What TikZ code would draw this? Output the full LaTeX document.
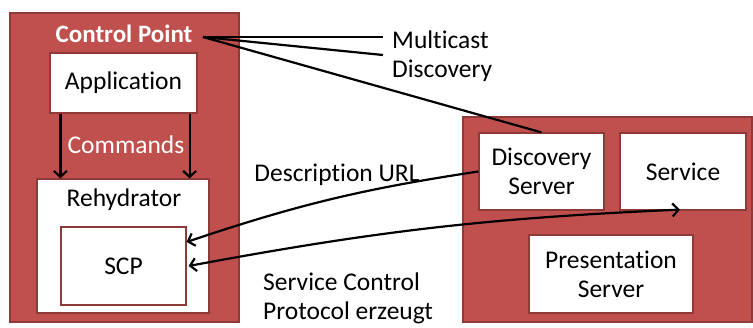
\documentclass[tikz,border=0pt]{standalone}
\usepackage{fontspec}
\setmainfont{Carlito}[Ligatures=NoCommon]
\usetikzlibrary{arrows.meta}
\definecolor{cpred}{HTML}{C0504D}
\definecolor{cpborder}{HTML}{8E3A38}
\tikzset{
  outerbox/.style={draw=cpborder, fill=cpred, line width=1.5pt, inner sep=0pt},
  whitebox/.style={draw=cpborder, fill=white, line width=1.2pt, inner sep=0pt, align=center},
  lbl/.style={inner sep=0pt, align=left},
  conn/.style={line width=2.2pt, black},
  arr/.style={conn, -{Straight Barb[length=6pt,width=13pt]}},
  darr/.style={conn, {Straight Barb[length=6pt,width=13pt]}-{Straight Barb[length=6pt,width=13pt]}}
}
\begin{document}
\begin{tikzpicture}[x=1pt,y=-1pt,font=\fontsize{25.5}{29}\selectfont]
\useasboundingbox (0,0) rectangle (753,327);
% Control point side
\node[outerbox, minimum width=229pt, minimum height=309pt] (cpbox) at (124.5,167.5) {};
\node[lbl, text=white, font=\fontsize{25}{29}\selectfont\bfseries] (cp) at (124,34) {Control Point};
\node[whitebox, minimum width=147pt, minimum height=60pt] (app) at (123.5,83) {Application};
\node[whitebox, minimum width=172pt, minimum height=134pt] (reh) at (123,246) {};
\node[lbl] (rehl) at (124,200) {Rehydrator};
\node[whitebox, minimum width=125pt, minimum height=78pt] (scp) at (123.5,266) {SCP};
\node[lbl, text=white] (cmd) at (126,145) {Commands};
\draw[arr] ([xshift=11pt]app.south west) -- ([xshift=24pt]reh.north west);
\draw[arr] ([xshift=-8pt]app.south east) -- ([xshift=-20pt]reh.north east);
% Device side
\node[outerbox, minimum width=289pt, minimum height=205pt] (dev) at (607.5,219.5) {};
\node[whitebox, minimum width=125pt, minimum height=77pt] (ds) at (541.5,171.5) {Discovery\\Server};
\node[whitebox, minimum width=126pt, minimum height=77pt] (svc) at (683,171.5) {Service};
\node[whitebox, minimum width=164pt, minimum height=78pt] (pres) at (611,274) {Presentation\\Server};
% Multicast discovery
\coordinate (o) at (203,37);
\coordinate (m1) at (383,37);
\coordinate (m2) at (383,55);
\draw[conn] (o) -- (m1);
\draw[conn] (o) -- (m2);
\draw[conn] (o) -- (ds.north);
\node[lbl, anchor=west] (mc) at (392,56) {Multicast\\Discovery};
% Description URL
\node[lbl] (durl) at (337,175) {Description URL};
\draw[arr] (ds.west) to[bend right=5] ([yshift=24pt]scp.east);
% Service control
\draw[darr] ([xshift=2pt]scp.east) to[bend left=4] ([xshift=-3pt,yshift=1pt]svc.south);
\node[lbl, anchor=west] (scpl) at (263,298) {Service Control\\Protocol erzeugt};
\end{tikzpicture}
\end{document}
